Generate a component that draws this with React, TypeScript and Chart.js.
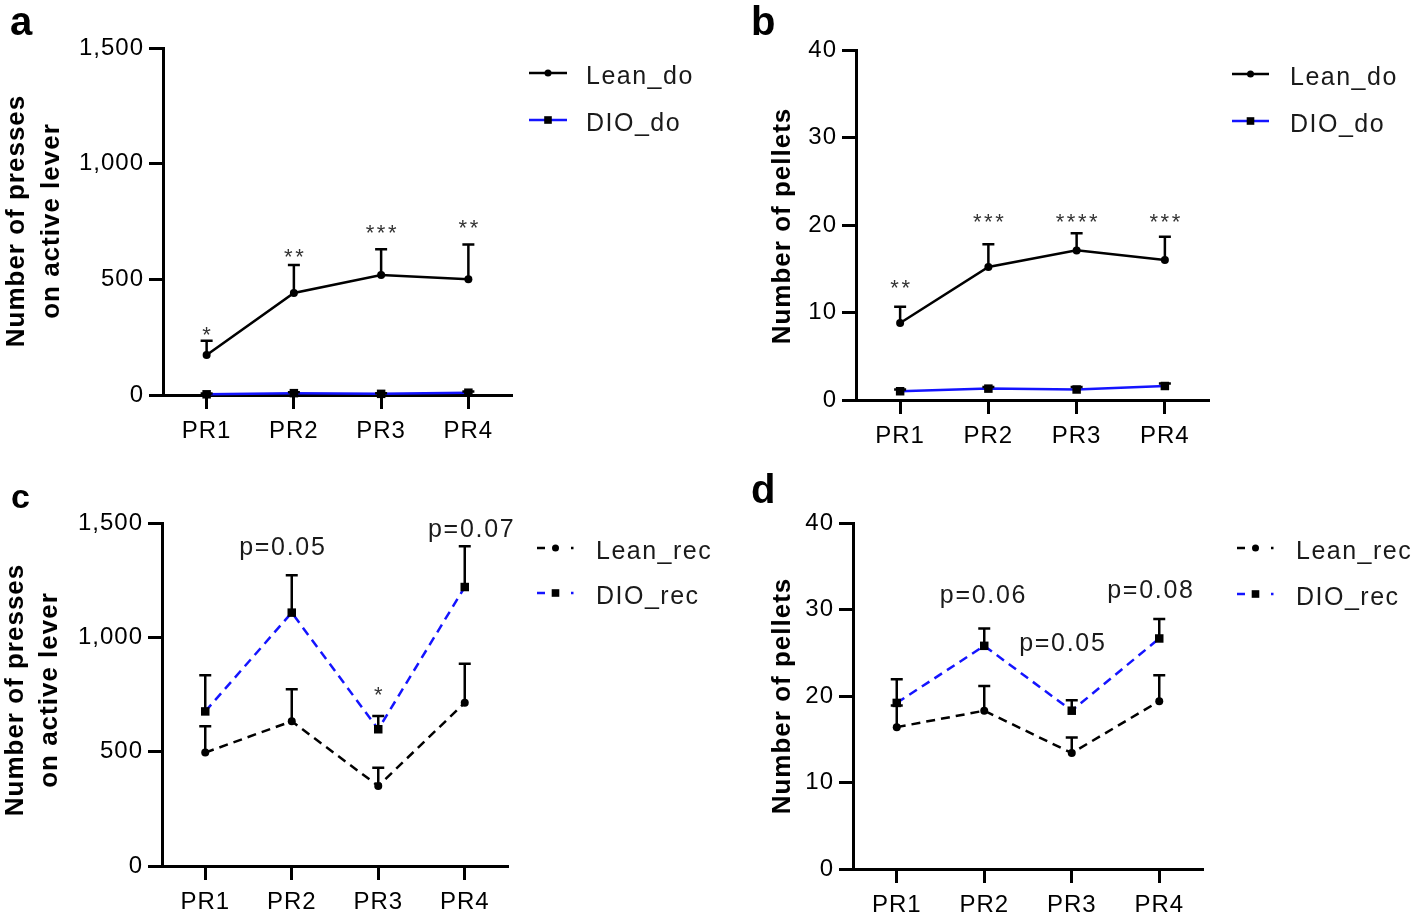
import React, { useEffect, useRef } from 'react';
import { Chart, registerables } from 'chart.js';

Chart.register(...registerables);

// ---------- data ----------
const categories = ['PR1', 'PR2', 'PR3', 'PR4'];
const pressTicks = [0, 500, 1000, 1500];
const pelletTicks = [0, 10, 20, 30, 40];

// a: presses on active lever, drop-out phase
const leanDoPresses = [173, 441, 519, 500];
const leanDoPressesSem = [62, 121, 111, 151];
const dioDoPresses = [3, 8, 5, 10];
const dioDoPressesSem = [3, 4, 3, 5];
const pressesDoNotes = ['*', '**', '***', '**'];
const pressesDoNoteX = [0, 1, 2, 3];
const pressesDoNoteY = [285, 620, 726, 748];

// b: pellets, drop-out phase
const leanDoPellets = [8.8, 15.2, 17.1, 16.0];
const leanDoPelletsSem = [1.85, 2.6, 1.95, 2.65];
const dioDoPellets = [1.0, 1.3, 1.2, 1.6];
const dioDoPelletsSem = [0.2, 0.2, 0.3, 0.3];
const pelletsDoNotes = ['**', '***', '****', '***'];
const pelletsDoNoteX = [0, 1, 2, 3];
const pelletsDoNoteY = [13.4, 21.0, 21.0, 21.0];

// c: presses on active lever, recovery phase
const leanRecPresses = [496, 633, 350, 714];
const leanRecPressesSem = [115, 140, 80, 171];
const dioRecPresses = [676, 1108, 598, 1220];
const dioRecPressesSem = [158, 163, 58, 178];
const pressesRecNotes = ['p=0.05', '*', 'p=0.07'];
const pressesRecNoteX = [0.887, 2, 3.07];
const pressesRecNoteY = [1398, 773, 1477];

// d: pellets, recovery phase
const leanRecPellets = [16.4, 18.3, 13.4, 19.4];
const leanRecPelletsSem = [2.5, 2.85, 1.8, 3.0];
const dioRecPellets = [19.2, 25.8, 18.3, 26.65];
const dioRecPelletsSem = [2.75, 2.0, 1.2, 2.25];
const pelletsRecNotes = ['p=0.06', 'p=0.05', 'p=0.08'];
const pelletsRecNoteX = [0.982, 1.889, 2.895];
const pelletsRecNoteY = [31.8, 26.3, 32.4];

// ---------- styling / layout ----------
const BLUE = 'rgb(20,20,255)';
const FONT = '"Liberation Sans", Arial, sans-serif';
const Y_W = 100;
const X_H = 50;

type Series = { label: string; data: number[]; sem: number[]; color: string; point: 'circle' | 'rect'; dashed: boolean };
type PanelCfg = {
  letter: string; letterFont: string; letterX: number; letterY: number;
  canvas: { left: number; top: number; width: number; height: number };
  area: { left: number; right: number; top: number; bottom: number };
  yMax: number; yTicks: number[];
  titleLines: string[]; titleX: number[]; titleY: number;
  legend: { x0: number; x1: number; textX: number; rows: number[] };
  series: Series[];
  notes: string[]; noteX: number[]; noteY: number[];
};

const panels: PanelCfg[] = [
  {
    letter: 'a', letterFont: `bold 40px ${FONT}`, letterX: 10, letterY: 35,
    canvas: { left: 0, top: 0, width: 720, height: 460 },
    area: { left: 163, right: 512, top: 48, bottom: 395 },
    yMax: 1500, yTicks: pressTicks,
    titleLines: ['Number of presses', 'on active lever'], titleX: [24, 59], titleY: 221,
    legend: { x0: 529, x1: 567, textX: 586, rows: [73, 120] },
    series: [
      { label: 'Lean_do', data: leanDoPresses, sem: leanDoPressesSem, color: '#000', point: 'circle', dashed: false },
      { label: 'DIO_do', data: dioDoPresses, sem: dioDoPressesSem, color: BLUE, point: 'rect', dashed: false },
    ],
    notes: pressesDoNotes, noteX: pressesDoNoteX, noteY: pressesDoNoteY,
  },
  {
    letter: 'b', letterFont: `bold 40px ${FONT}`, letterX: 751, letterY: 35,
    canvas: { left: 720, top: 0, width: 696, height: 460 },
    area: { left: 856, right: 1209, top: 50, bottom: 400 },
    yMax: 40, yTicks: pelletTicks,
    titleLines: ['Number of pellets'], titleX: [790], titleY: 226,
    legend: { x0: 1232, x1: 1269, textX: 1290, rows: [74, 121] },
    series: [
      { label: 'Lean_do', data: leanDoPellets, sem: leanDoPelletsSem, color: '#000', point: 'circle', dashed: false },
      { label: 'DIO_do', data: dioDoPellets, sem: dioDoPelletsSem, color: BLUE, point: 'rect', dashed: false },
    ],
    notes: pelletsDoNotes, noteX: pelletsDoNoteX, noteY: pelletsDoNoteY,
  },
  {
    letter: 'c', letterFont: `bold 34px ${FONT}`, letterX: 11, letterY: 508,
    canvas: { left: 0, top: 460, width: 720, height: 455 },
    area: { left: 162, right: 508, top: 523, bottom: 866 },
    yMax: 1500, yTicks: pressTicks,
    titleLines: ['Number of presses', 'on active lever'], titleX: [23, 57], titleY: 690,
    legend: { x0: 537, x1: 574, textX: 596, rows: [548, 593] },
    series: [
      { label: 'Lean_rec', data: leanRecPresses, sem: leanRecPressesSem, color: '#000', point: 'circle', dashed: true },
      { label: 'DIO_rec', data: dioRecPresses, sem: dioRecPressesSem, color: BLUE, point: 'rect', dashed: true },
    ],
    notes: pressesRecNotes, noteX: pressesRecNoteX, noteY: pressesRecNoteY,
  },
  {
    letter: 'd', letterFont: `bold 40px ${FONT}`, letterX: 751, letterY: 503,
    canvas: { left: 720, top: 460, width: 696, height: 455 },
    area: { left: 853, right: 1203, top: 523, bottom: 869 },
    yMax: 40, yTicks: pelletTicks,
    titleLines: ['Number of pellets'], titleX: [790], titleY: 696,
    legend: { x0: 1237, x1: 1274, textX: 1296, rows: [548, 594] },
    series: [
      { label: 'Lean_rec', data: leanRecPellets, sem: leanRecPelletsSem, color: '#000', point: 'circle', dashed: true },
      { label: 'DIO_rec', data: dioRecPellets, sem: dioRecPelletsSem, color: BLUE, point: 'rect', dashed: true },
    ],
    notes: pelletsRecNotes, noteX: pelletsRecNoteX, noteY: pelletsRecNoteY,
  },
];

function drawMarker(ctx: CanvasRenderingContext2D, kind: string, x: number, y: number, s: number) {
  ctx.fillStyle = '#000';
  if (kind === 'rect') {
    ctx.fillRect(x - s, y - s, 2 * s, 2 * s);
  } else {
    ctx.beginPath();
    ctx.arc(x, y, s, 0, Math.PI * 2);
    ctx.fill();
  }
}

const decorPlugin = {
  id: 'decor',
  beforeDraw(chart: any) {
    (chart.ctx as any).letterSpacing = '1px';
  },
  afterDatasetsDraw(chart: any, _a: any, o: any) {
    const cfg: PanelCfg = o.cfg;
    const ctx: CanvasRenderingContext2D = chart.ctx;
    const ys = chart.scales.y;
    ctx.save();
    ctx.strokeStyle = '#000';
    ctx.lineWidth = 2.5;
    ctx.setLineDash([]);
    cfg.series.forEach((s, di) => {
      const meta = chart.getDatasetMeta(di);
      meta.data.forEach((pt: any, i: number) => {
        const top = ys.getPixelForValue(s.data[i] + s.sem[i]);
        ctx.beginPath();
        ctx.moveTo(pt.x, pt.y);
        ctx.lineTo(pt.x, top);
        ctx.moveTo(pt.x - 6, top);
        ctx.lineTo(pt.x + 6, top);
        ctx.stroke();
      });
    });
    ctx.restore();
  },
  afterDraw(chart: any, _a: any, o: any) {
    const cfg: PanelCfg = o.cfg;
    const ctx: any = chart.ctx;
    const ox = cfg.canvas.left;
    const oy = cfg.canvas.top;
    ctx.save();
    ctx.fillStyle = '#000';
    ctx.textBaseline = 'alphabetic';
    // panel letter
    ctx.letterSpacing = '0px';
    ctx.textAlign = 'left';
    ctx.font = cfg.letterFont;
    ctx.fillText(cfg.letter, cfg.letterX - ox, cfg.letterY - oy);
    // axis title
    ctx.font = `bold 26px ${FONT}`;
    ctx.letterSpacing = '1px';
    ctx.textAlign = 'center';
    cfg.titleLines.forEach((t, i) => {
      ctx.save();
      ctx.translate(cfg.titleX[i] - ox, cfg.titleY - oy);
      ctx.rotate(-Math.PI / 2);
      ctx.fillText(t, 0, 0);
      ctx.restore();
    });
    // legend
    cfg.series.forEach((s, i) => {
      const y = cfg.legend.rows[i] - oy;
      const x0 = cfg.legend.x0 - ox;
      const x1 = cfg.legend.x1 - ox;
      const xm = (x0 + x1) / 2;
      ctx.strokeStyle = s.color;
      ctx.lineWidth = 2.5;
      ctx.setLineDash([]);
      if (s.dashed) {
        ctx.beginPath();
        ctx.moveTo(x0, y);
        ctx.lineTo(x0 + 8, y);
        ctx.stroke();
        ctx.fillStyle = s.color;
        ctx.fillRect(x1 - 3, y - 1.25, 2.5, 2.5);
      } else {
        ctx.beginPath();
        ctx.moveTo(x0, y);
        ctx.lineTo(x1, y);
        ctx.stroke();
      }
      drawMarker(ctx, s.point, xm, y, s.point === 'rect' ? 3.8 : 3.5);
      ctx.fillStyle = '#1a1a1a';
      ctx.font = `25px ${FONT}`;
      ctx.letterSpacing = '1.5px';
      ctx.textAlign = 'left';
      ctx.fillText(s.label, cfg.legend.textX - ox, y + 11);
    });
    // annotations
    const xs = chart.scales.x;
    const ys = chart.scales.y;
    ctx.textAlign = 'center';
    cfg.notes.forEach((t, i) => {
      const px = xs.getPixelForValue(cfg.noteX[i]);
      const py = ys.getPixelForValue(cfg.noteY[i]);
      if (t.startsWith('*')) {
        ctx.font = `22px ${FONT}`;
        ctx.letterSpacing = '2.5px';
        ctx.fillStyle = '#333';
        ctx.fillText(t, px + 1.25, py + 0.57 * 22);
      } else {
        ctx.font = `25px ${FONT}`;
        ctx.letterSpacing = '1.7px';
        ctx.fillStyle = '#1a1a1a';
        ctx.fillText(t, px + 0.85, py + 0.36 * 25);
      }
    });
    ctx.restore();
    ctx.letterSpacing = '0px';
  },
};

function Panel({ cfg }: { cfg: PanelCfg }) {
  const ref = useRef<HTMLCanvasElement>(null);
  useEffect(() => {
    if (!ref.current) return;
    const c = cfg.canvas;
    const a = cfg.area;
    const tickFont = { family: FONT, size: 24 };
    const gridOpts = { drawOnChartArea: false, drawTicks: true, tickLength: 14, tickWidth: 3, tickColor: '#000', offset: false };
    const borderOpts = { display: true, color: '#000', width: 3 };
    const chart = new Chart(ref.current, {
      type: 'line',
      data: {
        labels: categories,
        datasets: cfg.series.map((s) => ({
          label: s.label,
          data: s.data,
          borderColor: s.color,
          backgroundColor: '#000',
          borderWidth: 2.5,
          borderDash: s.dashed ? [9, 6] : [],
          pointStyle: s.point,
          pointRadius: s.point === 'rect' ? 6 : 4,
          pointBackgroundColor: '#000',
          pointBorderColor: '#000',
          pointBorderWidth: 0,
          tension: 0,
          clip: false as any,
        })),
      },
      options: {
        responsive: false,
        animation: false,
        devicePixelRatio: 1,
        events: [],
        layout: {
          padding: {
            left: a.left - c.left - Y_W,
            right: c.left + c.width - a.right,
            top: a.top - c.top,
            bottom: c.top + c.height - a.bottom - X_H,
          },
        },
        plugins: {
          legend: { display: false },
          tooltip: { enabled: false },
          decor: { cfg },
        } as any,
        scales: {
          x: {
            type: 'category',
            offset: true,
            grid: gridOpts,
            border: borderOpts,
            ticks: { font: tickFont, color: '#000', padding: 8, maxRotation: 0, autoSkip: false },
            afterFit: (s: any) => { s.height = X_H; },
          },
          y: {
            type: 'linear',
            min: 0,
            max: cfg.yMax,
            grid: gridOpts,
            border: borderOpts,
            ticks: {
              font: tickFont,
              color: '#000',
              padding: 5,
              callback: (v: any) => Number(v).toLocaleString('en-US'),
            },
            afterBuildTicks: (s: any) => { s.ticks = cfg.yTicks.map((v) => ({ value: v })); },
            afterFit: (s: any) => { s.width = Y_W; },
          },
        },
      } as any,
      plugins: [decorPlugin as any],
    });
    return () => chart.destroy();
  }, [cfg]);
  return (
    <canvas
      ref={ref}
      width={cfg.canvas.width}
      height={cfg.canvas.height}
      style={{ position: 'absolute', left: cfg.canvas.left, top: cfg.canvas.top, width: cfg.canvas.width, height: cfg.canvas.height }}
    />
  );
}

export default function App() {
  return (
    <div style={{ position: 'absolute', left: 0, top: 0, width: 1416, height: 915, background: '#fff' }}>
      {panels.map((p) => (
        <Panel key={p.letter} cfg={p} />
      ))}
    </div>
  );
}
